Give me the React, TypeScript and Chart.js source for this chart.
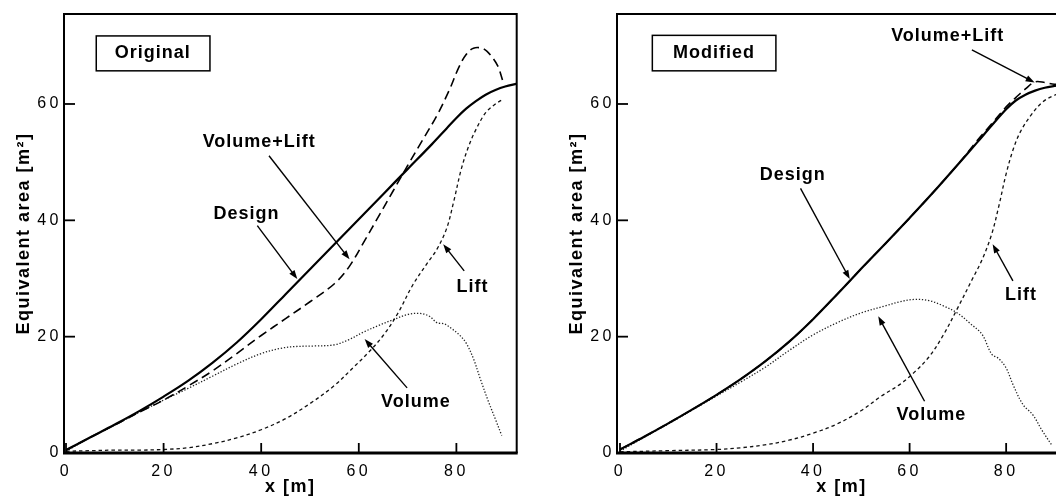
import React, { useEffect, useRef } from "react";
import { Chart, registerables } from "chart.js";

Chart.register(...registerables);

// ---------- shared axis data ----------
const xTicks = [0, 20, 40, 60, 80];
const yTicks = [0, 20, 40, 60];
const xTitle = "x [m]";
const yTitle = "Equivalent area [m²]";

// ---------- Original panel ----------
const origDesignX = [0, 5, 10, 15, 20, 25, 30, 35, 40, 45, 50, 55, 60, 65, 70, 75, 78, 80, 82, 84, 86, 88, 90, 92.4];
const origDesignY = [0.5, 2.7, 4.9, 7.2, 9.7, 12.4, 15.5, 19.0, 23.0, 27.3, 31.6, 35.9, 40.2, 44.5, 48.8, 53.1, 55.8, 57.6, 59.2, 60.5, 61.6, 62.4, 63.0, 63.5];

const origVolLiftX = [0, 5, 10, 15, 20, 25, 30, 35, 40, 45, 50, 55, 58, 61, 64, 67, 70, 73, 76, 78.5, 80.5, 82, 83.5, 85.5, 87, 88.5, 89.5];
const origVolLiftY = [0.5, 2.7, 4.8, 7.0, 9.1, 11.5, 14.1, 17.1, 20.2, 23.1, 26.0, 29.1, 32.0, 36.2, 40.6, 45.0, 49.4, 53.7, 58.0, 62.3, 66.3, 68.5, 69.6, 69.5, 68.4, 66.5, 64.0];

const origVolumeX = [0, 5, 10, 15, 20, 25, 30, 35, 40, 44, 47, 51, 55, 58, 61, 64, 67, 70, 72.5, 74.5, 76, 77.5, 79, 80.5, 82, 83.5, 85, 86.5, 88, 89.3];
const origVolumeY = [0.3, 2.7, 4.8, 7.0, 9.1, 11.1, 13.2, 15.3, 17.1, 18.0, 18.3, 18.4, 18.6, 19.5, 20.8, 21.9, 22.9, 23.8, 24.0, 23.5, 22.4, 22.2, 21.4, 20.4, 18.9, 16.2, 12.5, 9.0, 5.8, 3.0];

const origLiftX = [0, 5, 10, 15, 20, 25, 30, 35, 40, 45, 50, 55, 59, 62, 65, 68, 71, 74, 76, 78, 79.5, 81, 82.5, 84, 86, 88, 89.5];
const origLiftY = [0.3, 0.4, 0.5, 0.5, 0.6, 0.9, 1.6, 2.6, 4.0, 5.9, 8.5, 11.6, 14.8, 17.3, 20.2, 24.0, 28.8, 32.6, 35.0, 38.6, 43.4, 48.8, 52.7, 55.6, 58.5, 60.0, 60.8];

// ---------- Modified panel ----------
const modDesignX = [0, 5, 10, 15, 20, 25, 30, 35, 40, 45, 50, 55, 60, 65, 70, 74, 77, 80, 82, 84, 86, 88, 90, 92.4];
const modDesignY = [0.6, 2.8, 5.1, 7.5, 10.0, 12.7, 15.7, 19.1, 23.0, 27.3, 31.7, 36.0, 40.4, 44.9, 49.6, 53.4, 56.3, 59.1, 60.6, 61.6, 62.3, 62.8, 63.1, 63.4];

const modVolLiftX = [0, 5, 10, 15, 20, 25, 30, 35, 40, 45, 50, 55, 60, 65, 70, 74, 77, 80, 82, 84, 86, 88, 90, 92.4];
const modVolLiftY = [0.6, 2.8, 5.1, 7.5, 10.0, 12.7, 15.7, 19.1, 23.0, 27.3, 31.7, 36.0, 40.4, 44.9, 49.6, 53.7, 56.6, 59.5, 61.1, 62.6, 63.8, 63.7, 63.4, 63.5];

const modVolumeX = [0, 5, 10, 15, 20, 25, 30, 35, 40, 45, 50, 55, 58, 61, 64, 67, 70, 72.5, 75, 77, 78.5, 80, 81.5, 83.5, 85.5, 87.5, 89.5];
const modVolumeY = [0.3, 2.7, 5.0, 7.4, 9.8, 12.2, 14.7, 17.6, 20.3, 22.4, 24.1, 25.3, 26.0, 26.4, 26.2, 25.3, 24.0, 22.3, 20.4, 17.0, 16.2, 14.6, 11.6, 8.3, 6.6, 3.8, 1.3];

const modLiftX = [0, 10, 20, 25, 30, 35, 40, 45, 50, 54, 58, 61, 64, 67, 70, 73, 75, 77, 78.5, 80, 81.5, 83, 85, 87.5, 90, 92];
const modLiftY = [0.2, 0.4, 0.6, 0.9, 1.4, 2.2, 3.4, 5.0, 7.3, 9.7, 11.8, 13.9, 16.5, 20.3, 25.0, 29.9, 33.2, 37.6, 42.5, 48.0, 52.3, 55.3, 57.9, 60.3, 61.5, 62.0];

// ---------- styles ----------
const FONT = '"Liberation Sans", Arial, Helvetica, sans-serif';
const H = 498;

type Ann = { text: string; x: number; y: number; from?: [number, number]; to?: [number, number] };
type PanelCfg = {
  left: number;
  width: number;
  yAxisWidth: number;
  padRight: number;
  xMin: number;
  xMax: number;
  yTitlePad: number;
  series: { label: string; xs: number[]; ys: number[]; w: number; dash: number[]; color: string }[];
  boxed: { text: string; x: number; y: number; box: [number, number, number, number] };
  notes: Ann[];
};

const panels: PanelCfg[] = [
  {
    left: 0,
    width: 528,
    yAxisWidth: 64,
    padRight: 11.3,
    xMin: -0.41,
    xMax: 92.36,
    yTitlePad: 12.8,
    series: [
      { label: "Design", xs: origDesignX, ys: origDesignY, w: 2.2, dash: [], color: "#000" },
      { label: "Volume+Lift", xs: origVolLiftX, ys: origVolLiftY, w: 1.6, dash: [9, 5], color: "#000" },
      { label: "Lift", xs: origLiftX, ys: origLiftY, w: 1.3, dash: [3.5, 3], color: "#111" },
      { label: "Volume", xs: origVolumeX, ys: origVolumeY, w: 1.3, dash: [1.3, 1.8], color: "#222" },
    ],
    boxed: { text: "Original", x: 17.8, y: 68.7, box: [6.2, 71.7, 29.5, 65.7] },
    notes: [
      { text: "Volume+Lift", x: 39.6, y: 53.4, from: [41.6, 51.1], to: [58.1, 33.3] },
      { text: "Design", x: 37, y: 41.1, from: [39.2, 39.1], to: [47.4, 29.9] },
      { text: "Lift", x: 83.3, y: 28.6, from: [81.6, 31.3], to: [77.3, 35.9] },
      { text: "Volume", x: 71.7, y: 8.7, from: [69.9, 11.2], to: [61.2, 19.6] },
    ],
  },
  {
    left: 528,
    width: 548,
    yAxisWidth: 89,
    padRight: 10,
    xMin: -0.62,
    xMax: 92.4,
    yTitlePad: 38,
    series: [
      { label: "Design", xs: modDesignX, ys: modDesignY, w: 2.2, dash: [], color: "#000" },
      { label: "Volume+Lift", xs: modVolLiftX, ys: modVolLiftY, w: 1.6, dash: [9, 5], color: "#000" },
      { label: "Lift", xs: modLiftX, ys: modLiftY, w: 1.3, dash: [3.5, 3], color: "#111" },
      { label: "Volume", xs: modVolumeX, ys: modVolumeY, w: 1.3, dash: [1.3, 1.8], color: "#222" },
    ],
    boxed: { text: "Modified", x: 19.5, y: 68.8, box: [6.7, 71.8, 32.3, 65.7] },
    notes: [
      { text: "Volume+Lift", x: 67.9, y: 71.6, from: [72.9, 69.3], to: [85.9, 63.7] },
      { text: "Design", x: 35.8, y: 47.8, from: [37.4, 45.5], to: [47.6, 29.9] },
      { text: "Lift", x: 83.1, y: 27.2, from: [81.4, 29.6], to: [77.2, 35.9] },
      { text: "Volume", x: 64.5, y: 6.5, from: [63.1, 8.9], to: [53.5, 23.5] },
    ],
  },
];

function drawArrow(ctx: CanvasRenderingContext2D, x1: number, y1: number, x2: number, y2: number) {
  const ang = Math.atan2(y2 - y1, x2 - x1);
  const len = 9;
  const hw = 3.2;
  ctx.beginPath();
  ctx.moveTo(x1, y1);
  ctx.lineTo(x2 - Math.cos(ang) * len * 0.8, y2 - Math.sin(ang) * len * 0.8);
  ctx.stroke();
  ctx.beginPath();
  ctx.moveTo(x2, y2);
  ctx.lineTo(x2 - Math.cos(ang) * len - Math.sin(ang) * hw, y2 - Math.sin(ang) * len + Math.cos(ang) * hw);
  ctx.lineTo(x2 - Math.cos(ang) * len + Math.sin(ang) * hw, y2 - Math.sin(ang) * len - Math.cos(ang) * hw);
  ctx.closePath();
  ctx.fill();
}

function makePlugin(cfg: PanelCfg) {
  return {
    id: "decor",
    beforeDraw(chart: any) {
      (chart.ctx as any).letterSpacing = "1.5px";
    },
    afterDatasetsDraw(chart: any) {
      const ctx: CanvasRenderingContext2D = chart.ctx;
      const xs = chart.scales.x;
      const ys = chart.scales.y;
      const ca = chart.chartArea;
      const px = (v: number) => xs.getPixelForValue(v);
      const py = (v: number) => ys.getPixelForValue(v);
      ctx.save();
      (ctx as any).letterSpacing = "0px";
      ctx.strokeStyle = "#000";
      ctx.fillStyle = "#000";
      // frame
      ctx.lineWidth = 2;
      ctx.beginPath();
      ctx.moveTo(ca.left, ca.bottom);
      ctx.lineTo(ca.left, ca.top);
      ctx.lineTo(ca.right, ca.top);
      ctx.lineTo(ca.right, ca.bottom);
      ctx.stroke();
      ctx.lineWidth = 3;
      ctx.beginPath();
      ctx.moveTo(ca.left - 1, ca.bottom);
      ctx.lineTo(ca.right + 1, ca.bottom);
      ctx.stroke();
      // inward tick marks
      ctx.lineWidth = 1.8;
      xs.ticks.forEach((t: any) => {
        const x = px(t.value);
        ctx.beginPath();
        ctx.moveTo(x, ca.bottom);
        ctx.lineTo(x, ca.bottom - 10);
        ctx.stroke();
      });
      ys.ticks.forEach((t: any) => {
        const y = py(t.value);
        ctx.beginPath();
        ctx.moveTo(ca.left, y);
        ctx.lineTo(ca.left + 11, y);
        ctx.stroke();
      });
      // annotations
      (ctx as any).letterSpacing = "1px";
      ctx.font = `bold 18px ${FONT}`;
      ctx.textAlign = "center";
      ctx.textBaseline = "middle";
      const b = cfg.boxed;
      ctx.lineWidth = 1.5;
      const bx1 = px(b.box[0]);
      const by1 = py(b.box[1]);
      const bx2 = px(b.box[2]);
      const by2 = py(b.box[3]);
      ctx.strokeRect(bx1, by1, bx2 - bx1, by2 - by1);
      ctx.fillText(b.text, px(b.x), py(b.y));
      ctx.lineWidth = 1.4;
      cfg.notes.forEach((n) => {
        ctx.fillText(n.text, px(n.x), py(n.y));
        if (n.from && n.to) drawArrow(ctx, px(n.from[0]), py(n.from[1]), px(n.to[0]), py(n.to[1]));
      });
      ctx.restore();
      (ctx as any).letterSpacing = "3.5px";
    },
    afterDraw(chart: any) {
      (chart.ctx as any).letterSpacing = "0px";
    },
  };
}

function buildConfig(cfg: PanelCfg): any {
  return {
    type: "line",
    data: {
      datasets: cfg.series.map((s) => ({
        label: s.label,
        data: s.xs.map((x, i) => ({ x, y: s.ys[i] })),
        borderColor: s.color,
        borderWidth: s.w,
        borderDash: s.dash,
        pointRadius: 0,
        fill: false,
        tension: 0.35,
      })),
    },
    options: {
      responsive: false,
      animation: false,
      events: [],
      layout: { padding: { left: 0, top: 14, right: cfg.padRight, bottom: 0 } },
      plugins: { legend: { display: false }, tooltip: { enabled: false } },
      scales: {
        x: {
          type: "linear",
          min: cfg.xMin,
          max: cfg.xMax,
          afterBuildTicks: (s: any) => {
            s.ticks = xTicks.map((v) => ({ value: v }));
          },
          afterFit: (s: any) => {
            s.height = 45;
          },
          grid: { display: false, drawTicks: false },
          border: { display: false },
          ticks: {
            z: 1,
            padding: 9,
            color: "#000",
            maxRotation: 0,
            minRotation: 0,
            autoSkip: false,
            font: { family: FONT, size: 16 },
          },
          title: {
            display: true,
            text: xTitle,
            color: "#000",
            font: { family: FONT, size: 18, weight: "bold" },
            padding: { top: 0, bottom: 0 },
          },
        },
        y: {
          type: "linear",
          min: 0,
          max: 75.47,
          afterBuildTicks: (s: any) => {
            s.ticks = yTicks.map((v) => ({ value: v }));
          },
          afterFit: (s: any) => {
            s.width = cfg.yAxisWidth;
          },
          grid: { display: false, drawTicks: false },
          border: { display: false },
          ticks: {
            z: 1,
            padding: 2,
            color: "#000",
            font: { family: FONT, size: 16 },
          },
          title: {
            display: true,
            text: yTitle,
            color: "#000",
            font: { family: FONT, size: 18, weight: "bold" },
            padding: { top: cfg.yTitlePad, bottom: 0 },
          },
        },
      },
    },
    plugins: [makePlugin(cfg)],
  };
}

function Panel({ cfg }: { cfg: PanelCfg }) {
  const ref = useRef<HTMLCanvasElement>(null);
  useEffect(() => {
    if (!ref.current) return;
    const chart = new Chart(ref.current, buildConfig(cfg));
    return () => chart.destroy();
  }, [cfg]);
  return (
    <canvas
      ref={ref}
      width={cfg.width}
      height={H}
      style={{ position: "absolute", left: cfg.left, top: 0, width: cfg.width, height: H }}
    />
  );
}

export default function App() {
  return (
    <div
      style={{
        position: "fixed",
        left: 0,
        top: 0,
        width: 1056,
        height: H,
        overflow: "hidden",
        background: "#fff",
      }}
    >
      {panels.map((p, i) => (
        <Panel key={i} cfg={p} />
      ))}
    </div>
  );
}
